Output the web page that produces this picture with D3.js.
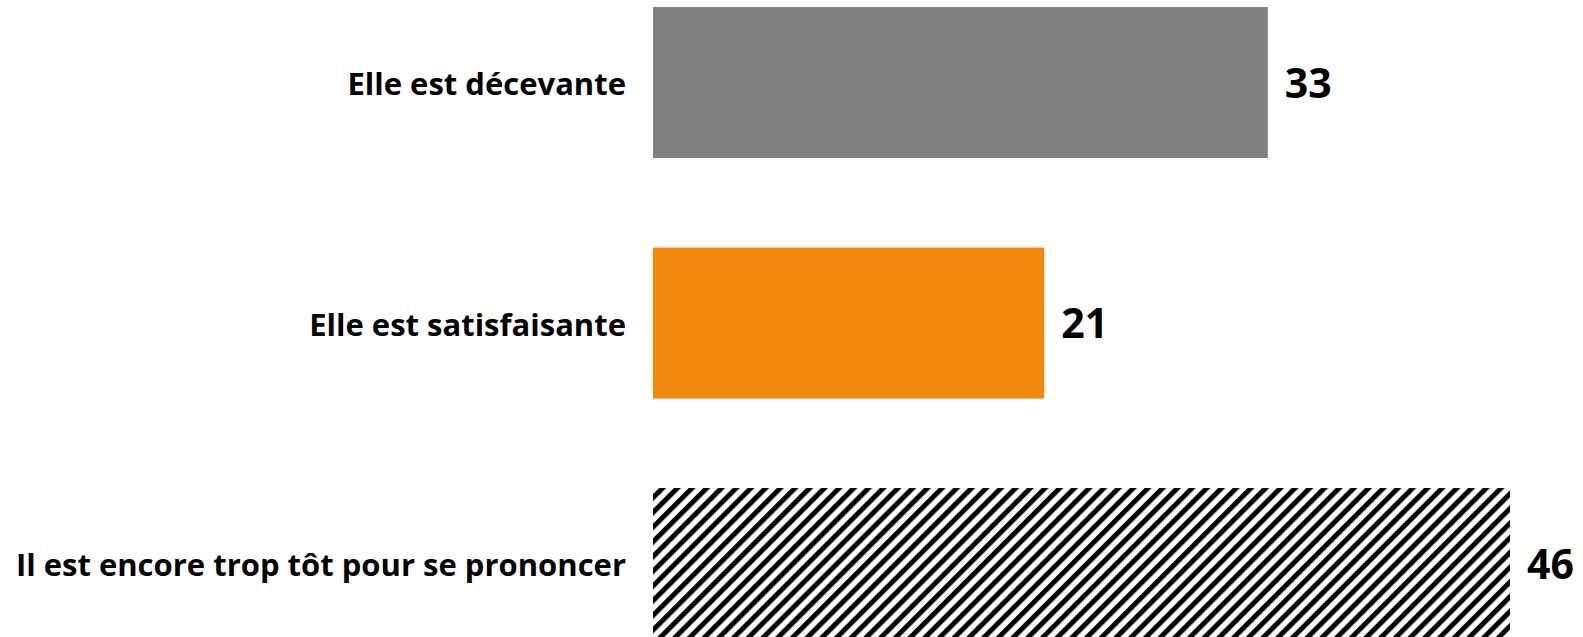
<!DOCTYPE html>
<html>
<head>
<meta charset="utf-8">
<script src="https://cdn.jsdelivr.net/npm/d3@7"></script>
<style>
  body { margin: 0; background: #fff; }
  svg { display: block; }
</style>
</head>
<body>
<svg id="chart" width="1583" height="637"></svg>
<script>
/* ------------ Data ----------------*/
const categories = ['Elle est décevante', 'Elle est satisfaisante', 'Il est encore trop tôt pour se prononcer'];
const values = [33, 21, 46];
const fills = ['#808080', '#F0890C', 'url(#hatch)'];

const svg = d3.select('#chart');

// diagonal hatch for the last bar
const defs = svg.append('defs');
const pattern = defs.append('pattern')
  .attr('id', 'hatch')
  .attr('patternUnits', 'userSpaceOnUse')
  .attr('width', 10.4)
  .attr('height', 10.4)
  .attr('patternTransform', 'rotate(45)');
pattern.append('rect')
  .attr('width', 10.4)
  .attr('height', 10.4)
  .attr('fill', '#fff');
pattern.append('line')
  .attr('x1', 0)
  .attr('y1', 0)
  .attr('x2', 0)
  .attr('y2', 10.4)
  .attr('stroke', '#000')
  .attr('stroke-width', 10);

const x = d3.scaleLinear()
  .domain([0, 46])
  .range([653, 1510]);

const y = d3.scaleBand()
  .domain(categories)
  .range([-37.7, 683.8])
  .paddingInner(0.372)
  .paddingOuter(0.186);

const rows = svg.selectAll('g.row')
  .data(categories)
  .join('g')
  .attr('class', 'row');

rows.append('rect')
  .attr('x', x(0))
  .attr('y', d => y(d))
  .attr('width', (d, i) => x(values[i]) - x(0))
  .attr('height', y.bandwidth())
  .attr('fill', (d, i) => fills[i]);

rows.append('text')
  .attr('x', x(0) - 27)
  .attr('y', d => y(d) + y.bandwidth() / 2 + 2)
  .attr('dy', '0.35em')
  .attr('text-anchor', 'end')
  .attr('font-family', '"Open Sans", sans-serif')
  .attr('font-weight', 'bold')
  .attr('font-size', '31px')
  .attr('fill', '#000')
  .text(d => d);

rows.append('text')
  .attr('x', (d, i) => x(values[i]) + 17)
  .attr('y', d => y(d) + y.bandwidth() / 2 + 1)
  .attr('dy', '0.35em')
  .attr('text-anchor', 'start')
  .attr('font-family', '"Open Sans", sans-serif')
  .attr('font-weight', 'bold')
  .attr('font-size', '41px')
  .attr('fill', '#000')
  .text((d, i) => values[i]);
</script>
</body>
</html>
